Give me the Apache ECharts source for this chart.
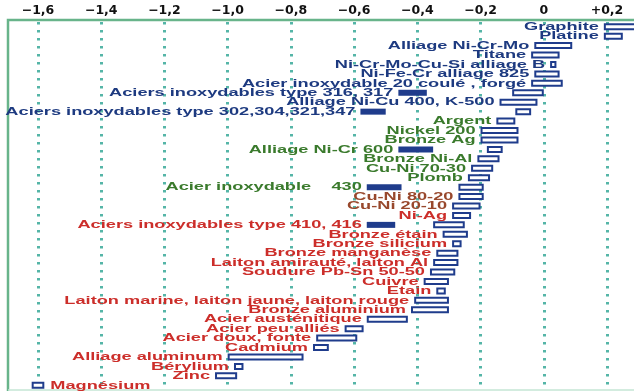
<!DOCTYPE html>
<html><head><meta charset="utf-8">
<script src="https://cdn.jsdelivr.net/npm/echarts@6/dist/echarts.min.js"></script>
<style>html,body{margin:0;padding:0;background:#fff}#c{width:634px;height:391px}</style>
</head><body><div id="c"></div>
<script>
// ---- data (top to bottom) ----
const categories = [
  'Graphite','Platine','Alliage Ni-Cr-Mo','Titane','Ni-Cr-Mo-Cu-Si alliage B','Ni-Fe-Cr alliage 825',
  'Acier inoxydable 20 coulé , forgé','Aciers inoxydables type 316, 317','Alliage Ni-Cu 400, K-500',
  'Aciers inoxydables type 302,304,321,347','Argent','Nickel 200','Bronze Ag','Alliage Ni-Cr 600',
  'Bronze Ni-Al','Cu-Ni 70-30','Plomb','Acier inoxydable    430','Cu-Ni 80-20','Cu-Ni 20-10','Ni-Ag',
  'Aciers inoxydables type 410, 416','Bronze étain','Bronze silicium','Bronze manganèse',
  'Laiton amirauté, laiton Al','Soudure Pb-Sn 50-50','Cuivre','Etain',
  'Laiton marine, laiton jaune, laiton rouge','Bronze aluminium','Acier austénitique','Acier peu alliés',
  'Acier doux, fonte','Cadmium','Alliage aluminum','Bérylium','Zinc','Magnésium'
];
const passiveLow = [0.19,0.19,-0.03,-0.04,0.02,-0.03,-0.04,-0.10,-0.14,-0.09,-0.15,-0.20,-0.20,-0.18,
  -0.21,-0.23,-0.24,-0.27,-0.27,-0.29,-0.29,-0.35,-0.32,-0.29,-0.34,-0.35,-0.36,-0.38,-0.34,
  -0.41,-0.42,-0.56,-0.63,-0.72,-0.73,-1.00,-0.98,-1.04,-1.62];
const passiveHigh = [0.30,0.25,0.09,0.05,0.04,0.05,0.06,0.00,-0.02,-0.04,-0.09,-0.08,-0.08,-0.13,
  -0.14,-0.16,-0.17,-0.19,-0.19,-0.20,-0.23,-0.25,-0.24,-0.26,-0.27,-0.27,-0.28,-0.30,-0.31,
  -0.30,-0.30,-0.43,-0.57,-0.59,-0.68,-0.76,-0.95,-0.97,-1.58];
// active (filled) ranges for stainless alloys, null where none
const activeLow = categories.map(() => null);
const activeHigh = categories.map(() => null);
activeLow[7] = -0.46;  activeHigh[7] = -0.37;
activeLow[9] = -0.58;  activeHigh[9] = -0.50;
activeLow[13] = -0.46; activeHigh[13] = -0.35;
activeLow[17] = -0.56; activeHigh[17] = -0.45;
activeLow[21] = -0.56; activeHigh[21] = -0.47;
// label group: 0 noble, 1 intermediate, 2 cupro-nickel, 3 active
const groups = [0,0,0,0,0,0,0,0,0,0, 1,1,1,1,1,1,1,1, 2,2, 3,3,3,3,3,3,3,3,3,3,3,3,3,3,3,3,3,3,3];
const tickLabels = ['\u22121,6','\u22121,4','\u22121,2','\u22121,0','\u22120,8','\u22120,6','\u22120,4','\u22120,2','0','+0,2'];
const xMin = -1.6, xMax = 0.2, xStep = 0.2;

// ---- chart ----
const groupColors = ['#1d3a80', '#3a7a2c', '#98482c', '#cc2e2a'];
const boxColor = '#1f3c8c';
const labelFont = 'bold 10px "Liberation Sans"';
const labelScale = 1.82;

const passiveData = categories.map((c, i) => [i, passiveLow[i], passiveHigh[i]]);
const activeData = [];
categories.forEach((c, i) => { if (activeLow[i] !== null) activeData.push([i, activeLow[i], activeHigh[i]]); });
const labelData = categories.map((c, i) => [i, activeLow[i] !== null ? activeLow[i] : passiveLow[i], passiveHigh[i]]);

function boxRender(filled) {
  return function (params, api) {
    const y = api.value(0);
    const a = api.coord([api.value(1), y]);
    const b = api.coord([api.value(2), y]);
    if (filled) {
      return { type: 'rect', shape: { x: a[0], y: a[1] - 3, width: b[0] - a[0], height: 6 },
        style: { fill: boxColor } };
    }
    return { type: 'rect', shape: { x: a[0] + 1, y: a[1] - 2.5, width: Math.max(b[0] - a[0] - 2, 1), height: 5 },
      style: { fill: '#ffffff', stroke: boxColor, lineWidth: 2 } };
  };
}

const chart = echarts.init(document.getElementById('c'), null, { renderer: 'canvas' });
chart.setOption({
  backgroundColor: '#ffffff',
  animation: false,
  grid: { left: 38, right: 27, top: 22, bottom: 1, containLabel: false, outerBoundsMode: 'none' },
  xAxis: {
    type: 'value', position: 'top', min: xMin, max: xMax, interval: xStep,
    axisLine: { show: false }, axisTick: { show: false },
    axisLabel: {
      margin: 5, color: '#111', fontFamily: 'DejaVu Sans', fontWeight: 'bold', fontSize: 12.5,
      formatter: v => tickLabels[Math.round((v - xMin) / xStep)]
    },
    splitLine: { show: true, lineStyle: { color: '#55b5a7', width: 3, type: [2.5, 5.5] } }
  },
  yAxis: {
    type: 'category', inverse: true, data: categories,
    axisLine: { show: false }, axisTick: { show: false }, axisLabel: { show: false }, splitLine: { show: false }
  },
  graphic: [{
    type: 'polyline', z: 0, silent: true,
    shape: { points: [[8, 392], [8, 20], [640, 20]] },
    style: { fill: 'none', stroke: '#68b48a', lineWidth: 2.5 }
  }, {
    type: 'line', z: 0, silent: true,
    shape: { x1: 8, y1: 390, x2: 640, y2: 390 },
    style: { stroke: '#c4e6d4', lineWidth: 1.5 }
  }],
  series: [
    { type: 'custom', name: 'passif', coordinateSystem: 'cartesian2d', clip: false, z: 3,
      encode: { x: [1, 2], y: 0 }, data: passiveData, renderItem: boxRender(false) },
    { type: 'custom', name: 'actif', coordinateSystem: 'cartesian2d', clip: false, z: 3,
      encode: { x: [1, 2], y: 0 }, data: activeData, renderItem: boxRender(true) },
    { type: 'custom', name: 'labels', coordinateSystem: 'cartesian2d', clip: false, z: 4,
      encode: { x: [1, 2], y: 0 }, data: labelData,
      renderItem: function (params, api) {
        const i = api.value(0);
        const pL = api.coord([api.value(1), i]);
        const pR = api.coord([api.value(2), i]);
        const right = pL[0] < 60;
        return {
          type: 'text', x: right ? pR[0] + 6 : pL[0] - 5, y: pL[1] + 0.5, scaleX: labelScale,
          style: { text: categories[i], align: right ? 'left' : 'right', verticalAlign: 'middle',
            fill: groupColors[groups[i]], font: labelFont }
        };
      } }
  ]
});
</script></body></html>
